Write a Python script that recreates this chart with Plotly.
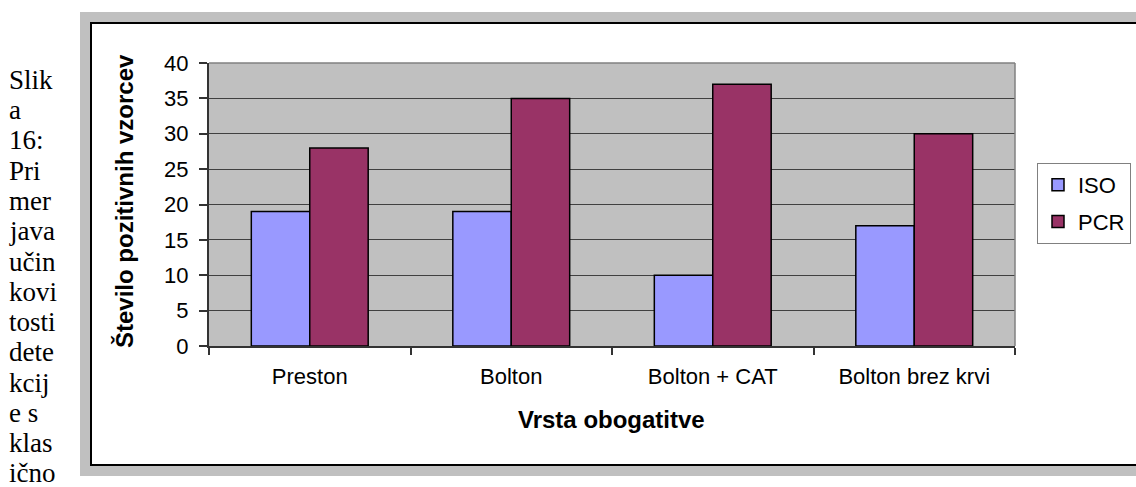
import plotly.graph_objects as go

# Chart data
categories = ["Preston", "Bolton", "Bolton + CAT", "Bolton brez krvi"]
iso_values = [19, 19, 10, 17]
pcr_values = [28, 35, 37, 30]
y_ticks = [0, 5, 10, 15, 20, 25, 30, 35, 40]

# Caption text running down the left edge of the page
caption_lines = ["Slik", "a", "16:", "Pri", "mer", "java", "učin", "kovi",
                 "tosti", "dete", "kcij", "e s", "klas", "ično"]

W, H = 1136, 487


def px(x):
    return x / W


def py(y):
    return 1 - y / H


# Plot-area box in pixels
PL, PR, PT, PB = 209, 1015, 63, 346

SANS = "Liberation Sans, Arial, sans-serif"
SERIF = "Liberation Serif, Times New Roman, serif"

fig = go.Figure()
fig.add_trace(go.Bar(
    name="ISO", x=categories, y=iso_values, legendgroup="iso",
    marker=dict(color="#9999FF", line=dict(color="#000000", width=1.5)),
))
fig.add_trace(go.Bar(
    name="PCR", x=categories, y=pcr_values, legendgroup="pcr",
    marker=dict(color="#993366", line=dict(color="#000000", width=1.5)),
))

shapes = [
    # outer grey frame and white chart panel
    dict(type="rect", xref="paper", yref="paper", layer="below",
         x0=px(80), x1=1.05, y0=py(476), y1=py(12),
         fillcolor="#C0C0C0", line=dict(width=0)),
    dict(type="rect", xref="paper", yref="paper", layer="below",
         x0=px(91), x1=1.05, y0=py(465), y1=py(23),
         fillcolor="#FFFFFF", line=dict(color="#000000", width=2)),
    # grey plot area
    dict(type="rect", xref="paper", yref="paper", layer="below",
         x0=px(PL), x1=px(PR), y0=py(PB), y1=py(PT),
         fillcolor="#C0C0C0", line=dict(width=0)),
    # top and right plot-area border
    dict(type="line", xref="paper", yref="paper", layer="above",
         x0=px(PL), x1=px(PR), y0=py(PT), y1=py(PT),
         line=dict(color="#808080", width=1.5)),
    dict(type="line", xref="paper", yref="paper", layer="above",
         x0=px(PR), x1=px(PR), y0=py(PT), y1=py(PB),
         line=dict(color="#808080", width=1.5)),
]

annotations = [
    dict(text="<b>Število pozitivnih vzorcev</b>", xref="paper", yref="paper",
         x=px(124), y=py(201), textangle=-90, showarrow=False,
         xanchor="center", yanchor="middle",
         font=dict(family=SANS, size=24, color="#000000")),
    dict(text="<b>Vrsta obogatitve</b>", xref="paper", yref="paper",
         x=px(611), y=py(419), showarrow=False,
         xanchor="center", yanchor="middle",
         font=dict(family=SANS, size=24, color="#000000")),
]

for i, line in enumerate(caption_lines):
    annotations.append(dict(
        text=line, xref="paper", yref="paper",
        x=px(7), y=py(80 + 30.25 * i), showarrow=False,
        xanchor="left", yanchor="middle",
        font=dict(family=SERIF, size=27, color="#000000"),
    ))

fig.update_layout(
    width=W, height=H,
    margin=dict(l=0, r=0, t=0, b=0),
    paper_bgcolor="#FFFFFF",
    plot_bgcolor="rgba(0,0,0,0)",
    barmode="group",
    bargap=0.42,
    bargroupgap=0,
    font=dict(family=SANS, size=22, color="#000000"),
    showlegend=True,
    legend=dict(
        x=px(1037), y=py(163), xanchor="left", yanchor="top",
        xref="paper", yref="paper",
        bgcolor="#FFFFFF", bordercolor="#808080", borderwidth=1,
        font=dict(family=SANS, size=22, color="#000000"),
        traceorder="grouped", tracegroupgap=5,
    ),
    xaxis=dict(
        domain=[px(PL), px(PR)],
        type="category",
        tickson="boundaries",
        ticks="outside", ticklen=7, tickwidth=1.5, tickcolor="#333333",
        showline=True, linecolor="#333333", linewidth=2,
        showgrid=False, zeroline=False, automargin=False,
        tickfont=dict(family=SANS, size=22, color="#000000"),
        ticklabelstandoff=10,
        fixedrange=True,
    ),
    yaxis=dict(
        domain=[py(PB), py(PT)],
        range=[0, 40],
        tickmode="array", tickvals=y_ticks,
        ticks="outside", ticklen=8, tickwidth=1.5, tickcolor="#333333",
        showline=True, linecolor="#333333", linewidth=2,
        showgrid=True, gridcolor="#404040", gridwidth=1,
        zeroline=False, automargin=False,
        tickfont=dict(family=SANS, size=22, color="#000000"),
        ticklabelstandoff=6,
        fixedrange=True,
    ),
    shapes=shapes,
    annotations=annotations,
)

fig.write_html("out.html")
